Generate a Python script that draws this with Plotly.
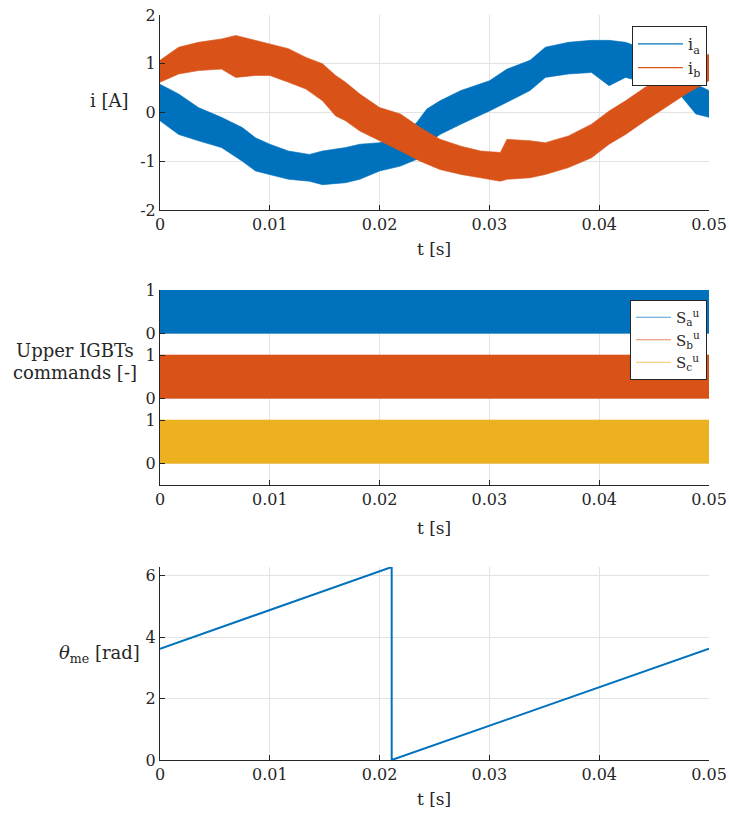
import plotly.graph_objects as go

# ---------------- data ----------------
t_ia = [0, 0.0017, 0.0035, 0.0056, 0.0075, 0.0087, 0.010, 0.0117, 0.0136, 0.0148,
        0.0169, 0.0182, 0.020, 0.0219, 0.0234, 0.0243, 0.0255, 0.0274, 0.030, 0.0316,
        0.0337, 0.0351, 0.0372, 0.0393, 0.0409, 0.0424, 0.0454, 0.0473, 0.0488, 0.050]
ia_upper = [0.58, 0.38, 0.10, -0.10, -0.31, -0.52, -0.65, -0.79, -0.86, -0.79,
            -0.72, -0.65, -0.62, -0.52, -0.20, 0.07, 0.24, 0.45, 0.65, 0.89,
            1.07, 1.34, 1.44, 1.48, 1.48, 1.44, 1.20, 0.82, 0.58, 0.45]
ia_lower = [-0.17, -0.45, -0.58, -0.72, -1.00, -1.20, -1.27, -1.37, -1.41, -1.48,
            -1.44, -1.37, -1.20, -1.10, -0.96, -0.65, -0.45, -0.24, 0.03, 0.21,
            0.45, 0.72, 0.79, 0.82, 0.55, 0.72, 0.55, 0.38, -0.03, -0.10]

t_ib = [0, 0.0017, 0.0035, 0.0056, 0.0069, 0.0087, 0.010, 0.0117, 0.0133, 0.0148,
        0.016, 0.0169, 0.0182, 0.020, 0.0219, 0.0237, 0.0255, 0.0274, 0.0292, 0.031,
        0.0316, 0.0337, 0.0351, 0.0372, 0.0393, 0.0409, 0.0424, 0.0442, 0.046, 0.0479, 0.050]
ib_upper = [1.07, 1.34, 1.44, 1.51, 1.58, 1.48, 1.41, 1.31, 1.13, 1.00,
            0.76, 0.62, 0.38, 0.10, -0.03, -0.31, -0.55, -0.69, -0.79, -0.82,
            -0.55, -0.58, -0.62, -0.48, -0.24, 0.03, 0.24, 0.52, 0.72, 0.93, 1.20]
ib_lower = [0.62, 0.79, 0.86, 0.89, 0.72, 0.76, 0.76, 0.62, 0.48, 0.24,
            -0.07, -0.17, -0.38, -0.58, -0.79, -1.00, -1.17, -1.27, -1.34, -1.41,
            -1.37, -1.34, -1.27, -1.13, -0.93, -0.65, -0.45, -0.17, 0.10, 0.38, 0.65]

# PWM commands switch between 0 and 1 over the whole window (solid band)
t_cmd = [0, 0.05]
cmd_low = [0, 0]
cmd_high = [1, 1]
cmd_names = ["S<sub>a</sub><sup>u</sup>", "S<sub>b</sub><sup>u</sup>", "S<sub>c</sub><sup>u</sup>"]
cmd_offsets = [3, 1.5, 0]

t_theta = [0, 0.0211, 0.0211, 0.05]
theta = [3.62, 6.283, 0.0, 3.62]

t_ticks = [0, 0.01, 0.02, 0.03, 0.04, 0.05]
t_ticktext = ["0", "0.01", "0.02", "0.03", "0.04", "0.05"]

# ---------------- styling ----------------
BLUE = "#0072BD"
ORANGE = "#D95319"
YELLOW = "#EDB120"
FONT = "DejaVu Serif"
AX = "#262626"
GRID = "#e3e3e3"

fig = go.Figure()

def band(t, up, lo):
    return list(t) + list(t)[::-1], list(up) + list(lo)[::-1]

x, y = band(t_ia, ia_upper, ia_lower)
fig.add_trace(go.Scatter(x=x, y=y, fill="toself", fillcolor=BLUE, mode="lines",
                         line=dict(width=0.6, color=BLUE), showlegend=False,
                         xaxis="x", yaxis="y"))
x, y = band(t_ib, ib_upper, ib_lower)
fig.add_trace(go.Scatter(x=x, y=y, fill="toself", fillcolor=ORANGE, mode="lines",
                         line=dict(width=0.6, color=ORANGE), showlegend=False,
                         xaxis="x", yaxis="y"))
for name, col in [("i<sub>a</sub>", BLUE), ("i<sub>b</sub>", ORANGE)]:
    fig.add_trace(go.Scatter(x=[None], y=[None], mode="lines", name=name,
                             line=dict(color=col, width=1.2), legend="legend",
                             xaxis="x", yaxis="y"))

for name, col, off in zip(cmd_names, [BLUE, ORANGE, YELLOW], cmd_offsets):
    x, y = band(t_cmd, [v + off for v in cmd_high], [v + off for v in cmd_low])
    fig.add_trace(go.Scatter(x=x, y=y, fill="toself", fillcolor=col, mode="lines",
                             line=dict(width=0.6, color=col), showlegend=False,
                             xaxis="x2", yaxis="y2"))
for name, col in zip(cmd_names, [BLUE, ORANGE, YELLOW]):
    fig.add_trace(go.Scatter(x=[None], y=[None], mode="lines", name=name,
                             line=dict(color=col, width=1.2), opacity=0.7,
                             legend="legend2", xaxis="x2", yaxis="y2"))

fig.add_trace(go.Scatter(x=t_theta, y=theta, mode="lines", showlegend=False,
                         line=dict(color=BLUE, width=2), xaxis="x3", yaxis="y3"))

W, H = 729, 819
def xd(a, b):
    return [a / W, b / W]
def yd(top, bot):
    return [1 - bot / H, 1 - top / H]

tickfont = dict(family=FONT, size=16, color=AX)
xcommon = dict(range=[0, 0.05], tickvals=t_ticks, ticktext=t_ticktext, ticks="inside",
               ticklen=5, tickcolor=AX, showline=True, linecolor=AX, linewidth=1,
               showgrid=True, gridcolor=GRID, zeroline=False, tickfont=tickfont,
               domain=xd(160, 709), automargin=False)
ycommon = dict(ticks="inside", ticklen=5, tickcolor=AX, showline=True, linecolor=AX,
               linewidth=1, showgrid=True, gridcolor=GRID, zeroline=False, tickfont=tickfont,
               automargin=False)

fig.update_layout(
    width=W, height=H, margin=dict(l=0, r=0, t=0, b=0, autoexpand=False),
    paper_bgcolor="white", plot_bgcolor="white",
    font=dict(family=FONT, size=16, color=AX),
    xaxis=dict(**xcommon, anchor="y"),
    yaxis=dict(**ycommon, range=[-2, 2], tickvals=[-2, -1, 0, 1, 2],
               ticktext=["-2", "-1", "0", "1", "2"], domain=yd(15, 210), anchor="x"),
    xaxis2=dict(**xcommon, anchor="y2"),
    yaxis2=dict(**ycommon, range=[-0.5, 4], tickvals=[0, 1, 1.5, 2.5, 3, 4],
                ticktext=["0", "1", "0", "1", "0", "1"], domain=yd(290, 485), anchor="x2"),
    xaxis3=dict(**xcommon, anchor="y3"),
    yaxis3=dict(**ycommon, range=[0, 6.2832], tickvals=[0, 2, 4, 6],
                ticktext=["0", "2", "4", "6"], domain=yd(567, 760), anchor="x3"),
    legend=dict(x=707 / W, xanchor="right", y=1 - 26 / H, yanchor="top",
                bgcolor="white", bordercolor=AX, borderwidth=1, itemwidth=45,
                font=dict(family=FONT, size=16, color=AX), tracegroupgap=0),
    legend2=dict(x=707 / W, xanchor="right", y=1 - 300 / H, yanchor="top",
                 bgcolor="white", bordercolor=AX, borderwidth=1, itemwidth=35,
                 font=dict(family=FONT, size=15, color=AX), tracegroupgap=0),
)

ann = []
def label(text, xp, yp, size=17):
    ann.append(dict(text=text, x=xp / W, y=1 - yp / H, xref="paper", yref="paper",
                    showarrow=False, font=dict(family=FONT, size=size, color=AX),
                    xanchor="center", yanchor="middle"))

label("t [s]", 434, 249)
label("t [s]", 434, 528)
label("t [s]", 434, 799)
label("i [A]", 109, 100, 18)
label("Upper IGBTs", 75, 350, 18)
label("commands [-]", 75, 373, 18)
label("<i>θ</i><sub>me</sub> [rad]", 99, 654, 18)
fig.update_layout(annotations=ann)

fig.write_html("out.html")
